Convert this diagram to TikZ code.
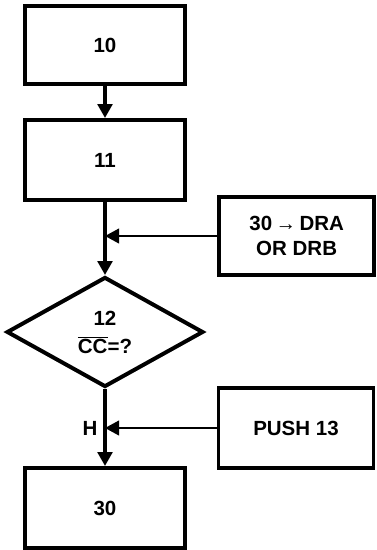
\documentclass[tikz,border=0pt]{standalone}
\usepackage{fontspec}
\setmainfont{Liberation Sans}
\usetikzlibrary{shapes.geometric, arrows.meta, positioning, calc}
\tikzset{
    stepbox/.style={draw, rectangle, line width=3.4pt, minimum width=4.8cm, minimum height=2.35cm, font=\fontsize{17.5}{21}\selectfont\bfseries, align=center},
    sidebox/.style={stepbox, minimum width=4.65cm},
    decision/.style={draw, diamond, line width=3.4pt, minimum width=5.9cm, minimum height=3.3cm, aspect=1.8, inner sep=0pt, font=\fontsize{17.5}{21}\selectfont\bfseries, align=center},
    flowline/.style={line width=3pt},
    flowarrow/.style={flowline, -{Triangle[length=4.2mm, width=4.4mm]}},
    feedarrow/.style={line width=1.6pt, -{Triangle[length=4.2mm, width=4.4mm]}},
}
\begin{document}
\begin{tikzpicture}
    \useasboundingbox (0,0) rectangle (11.31,-16.5);
    % main column
    \node[stepbox] (s10) at (3.15, -1.35) {10};
    \node[stepbox, minimum height=2.4cm] (s11) at (3.15, -4.8) {11};
    \node[decision] (s12) at (3.15, -9.96) {12\\[3pt]\(\overline{\hbox{CC}}\)=?};
    \node[stepbox, minimum height=2.4cm] (s30) at (3.15, -15.24) {30};
    % side boxes
    \node[sidebox, minimum height=2.34cm] (dra) at (8.9, -7.08) {30\,→\,DRA\\OR DRB};
    \node[sidebox, minimum height=2.4cm] (push) at (8.88, -12.84) {PUSH 13};
    % junctions
    \coordinate (j1) at (s11.south |- dra.west);
    \coordinate (j2) at (s11.south |- push.west);

    \draw[flowarrow] (s10) -- (s11);
    \draw[flowline] (s11) -- (j1);
    \draw[flowarrow] (j1) -- (s12.north);
    \draw[feedarrow] (dra) -- (j1);
    \draw[flowline] (s12.south) -- (j2);
    \draw[flowarrow] (j2) -- (s30);
    \draw[feedarrow] (push) -- (j2);
    \node[font=\fontsize{17.5}{21}\selectfont\bfseries, left=3pt of j2] (hlabel) {H};
\end{tikzpicture}
\end{document}
